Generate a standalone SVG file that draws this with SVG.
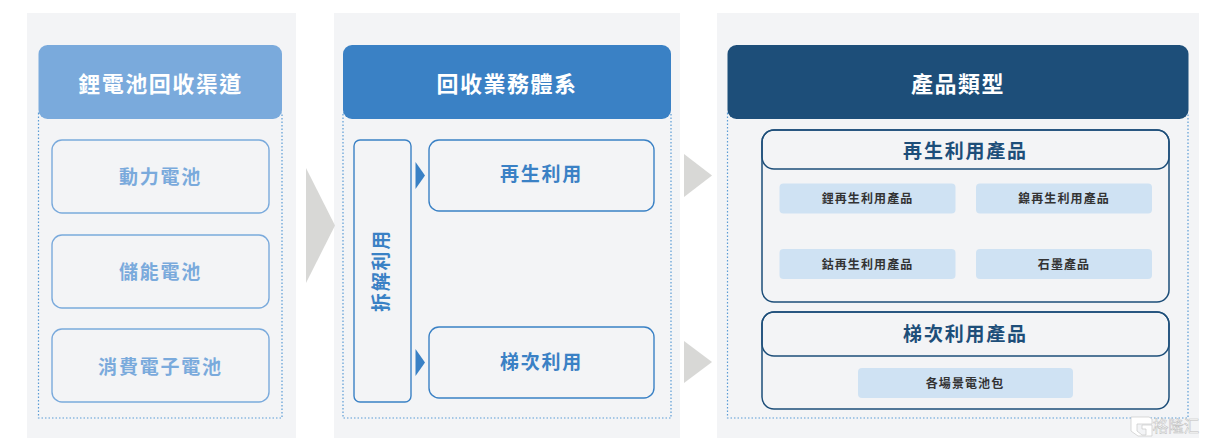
<svg xmlns="http://www.w3.org/2000/svg" width="1205" height="443" viewBox="0 0 1205 443">
<style>
text{font-family:"Noto Sans CJK TC","Noto Sans CJK SC",sans-serif;font-weight:700;text-anchor:middle;dominant-baseline:central}
.panel{fill:#f3f4f6}
.dot{fill:none;stroke:#5b9bd5;stroke-width:1.2;stroke-dasharray:1.5 2}
.hd{fill:#fff;font-size:22px;letter-spacing:1.5px}
.sub{font-size:19px;letter-spacing:1.8px}
.b1{fill:none;stroke:#7aaadc;stroke-width:1.4}
.b2{fill:none;stroke:#3a81c5;stroke-width:1.4}
.b3{fill:none;stroke:#1d4e79;stroke-width:1.5}
.t1{fill:#7aaadc}.t2{fill:#3a81c5}.t3{fill:#1d4e79}
.chip{fill:#cfe2f3}
.ct{fill:#333;font-size:12px;letter-spacing:1.1px}
.arrow{fill:#d8d8d6}
.tri{fill:#3a81c5}
</style>
<rect class="panel" x="27" y="13" width="269" height="425"/>
<rect class="panel" x="334" y="13" width="346" height="425"/>
<rect class="panel" x="717" y="13" width="482" height="425"/>
<g id="connectors">
<path class="arrow" d="M306 168L335 225.500L306 283Z"/>
<path class="arrow" d="M684 154L712 175.500L684 197Z"/>
<path class="arrow" d="M684 341L712 362L684 383Z"/>
<path class="tri" d="M415.500 162L425 175.500L415.500 189Z"/>
<path class="tri" d="M415.500 349L425 362.500L415.500 376Z"/>
</g>
<g id="channels">
<rect class="dot" x="38.500" y="113" width="243.500" height="305"/>
<rect x="38.500" y="45" width="243.500" height="74" rx="9" fill="#7aaadc"/>
<text class="hd" x="160.500" y="81.500">鋰電池回收渠道</text>
</g>
<g id="node-power"><rect class="b1" x="52" y="140" width="217" height="73" rx="10"/><text class="sub t1" x="160.500" y="175.500">動力電池</text></g>
<g id="node-storage"><rect class="b1" x="52" y="235" width="217" height="73" rx="10"/><text class="sub t1" x="160.500" y="270">儲能電池</text></g>
<g id="node-consumer"><rect class="b1" x="52" y="329" width="217" height="73" rx="10"/><text class="sub t1" x="160.500" y="365">消費電子電池</text></g>
<g id="system">
<rect class="dot" x="343" y="113" width="328" height="305"/>
<rect x="343" y="45" width="328" height="74" rx="9" fill="#3a81c5"/>
<text class="hd" x="507" y="81.500">回收業務體系</text>
</g>
<g id="node-dismantle"><rect class="b2" x="354" y="140" width="57" height="262" rx="6"/><text class="sub t2" transform="translate(379.500 270.500) rotate(-90)" x="0" y="0">拆解利用</text></g>
<g id="node-recycle"><rect class="b2" x="429" y="140" width="225" height="71" rx="10"/><text class="sub t2" x="541.500" y="172.500">再生利用</text></g>
<g id="node-cascade"><rect class="b2" x="429" y="327" width="225" height="71" rx="10"/><text class="sub t2" x="541.500" y="360.500">梯次利用</text></g>
<g id="products">
<rect class="dot" x="727.500" y="113" width="460.500" height="305"/>
<rect x="727.500" y="45" width="461" height="74" rx="9" fill="#1d4e79"/>
<text class="hd" x="958" y="81.500">產品類型</text>
</g>
<g id="group-recycle">
<rect class="b3" x="762" y="130" width="407" height="172" rx="12"/>
<rect class="b3" x="762" y="130" width="407" height="39" rx="12"/>
<text class="sub t3" x="965.500" y="149">再生利用產品</text>
</g>
<g id="chip-li"><rect class="chip" x="779.500" y="183.500" width="176" height="30" rx="4"/><text class="ct" x="867.500" y="197">鋰再生利用產品</text></g>
<g id="chip-ni"><rect class="chip" x="976" y="183.500" width="176" height="30" rx="4"/><text class="ct" x="1064" y="197">鎳再生利用產品</text></g>
<g id="chip-co"><rect class="chip" x="779.500" y="249" width="176" height="30" rx="4"/><text class="ct" x="867.500" y="263">鈷再生利用產品</text></g>
<g id="chip-graphite"><rect class="chip" x="976" y="249" width="176" height="30" rx="4"/><text class="ct" x="1064" y="263">石墨產品</text></g>
<g id="group-cascade">
<rect class="b3" x="762" y="312" width="407" height="97" rx="12"/>
<rect class="b3" x="762" y="312" width="407" height="44" rx="12"/>
<text class="sub t3" x="965.500" y="332">梯次利用產品</text>
</g>
<g id="chip-pack"><rect class="chip" x="858" y="368" width="215" height="30" rx="4"/><text class="ct" x="965" y="382">各場景電池包</text></g>
<g id="watermark">
<path d="M1131 417H1149L1152 419V424H1137V431L1142 435H1146V429H1142V425H1152V436H1138L1131 431Z" fill="#fff" stroke="#c9c9c9" stroke-width=".7"/>
<text x="1176" y="425" style="font-size:15.500px;font-weight:400;fill:#fff;stroke:#bdbdbd;stroke-width:.5">格隆汇</text>
</g>
</svg>
